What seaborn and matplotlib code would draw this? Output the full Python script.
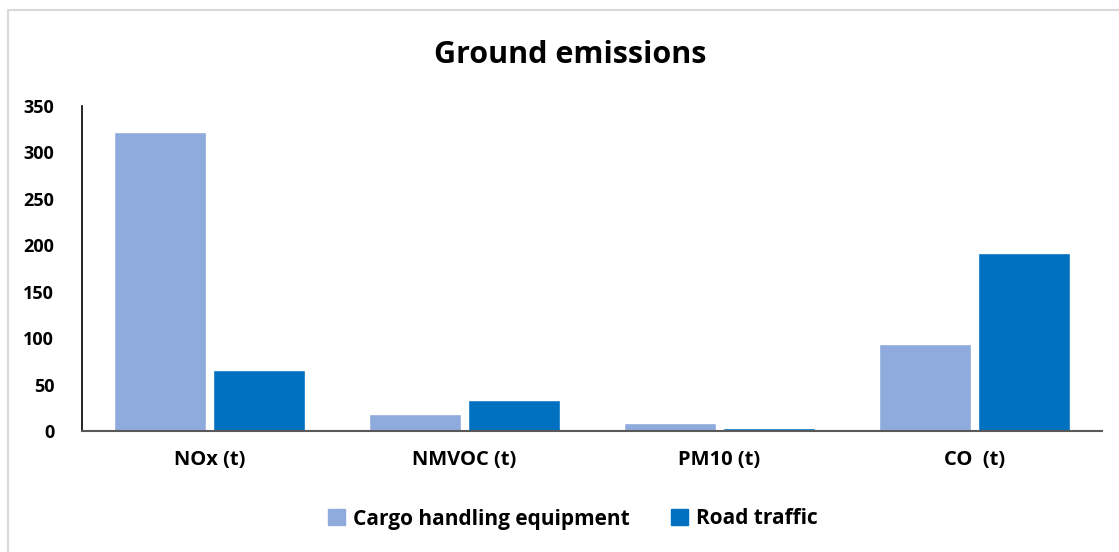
import matplotlib
matplotlib.use("Agg")
import matplotlib.pyplot as plt
import seaborn as sns
import pandas as pd
from matplotlib.lines import Line2D

categories = ["NOx (t)", "NMVOC (t)", "PM10 (t)", "CO  (t)"]
series_names = ["Cargo handling equipment", "Road traffic"]
cargo_values = [322, 18.5, 8.8, 94]
road_values = [66, 33.5, 3, 191.5]
y_ticks = [0, 50, 100, 150, 200, 250, 300, 350]
colors = ["#8FAADC", "#0070C0"]

df = pd.DataFrame({
    "category": categories * 2,
    "series": [series_names[0]] * len(categories) + [series_names[1]] * len(categories),
    "value": cargo_values + road_values,
})

sns.set_theme(style="white")
plt.rcParams["font.family"] = ["Open Sans", "DejaVu Sans"]
plt.rcParams["text.color"] = "black"
plt.rcParams["xtick.color"] = "black"
plt.rcParams["ytick.color"] = "black"

fig = plt.figure(figsize=(11.19, 5.52), dpi=100)
ax = fig.add_axes([82 / 1119, 1 - 431 / 552, (1102 - 82) / 1119, (431 - 106) / 552])

sns.barplot(data=df, x="category", y="value", hue="series", order=categories,
            hue_order=series_names, palette=colors, width=0.78, gap=0.08,
            saturation=1, ax=ax, legend=True)

ax.set_ylim(0, 350)
ax.set_yticks(y_ticks)
ax.set_yticklabels([str(t) for t in y_ticks], fontsize=13, fontweight="bold", color="black")
ax.set_xlim(-0.5, len(categories) - 0.5)
ax.set_xlabel("")
ax.set_ylabel("")
for lab in ax.get_xticklabels():
    lab.set_fontsize(14.5)
    lab.set_fontweight("bold")
    lab.set_color("black")
ax.tick_params(axis="both", length=0)
ax.tick_params(axis="x", pad=14)
ax.tick_params(axis="y", pad=20)

for s in ["top", "right"]:
    ax.spines[s].set_visible(False)
ax.spines["left"].set_color("black")
ax.spines["left"].set_linewidth(1.2)
ax.spines["bottom"].set_color("#595959")
ax.spines["bottom"].set_linewidth(1.5)

ax.legend_.remove()
handles = [plt.Rectangle((0, 0), 1, 1, color=c) for c in colors]
leg = fig.legend(handles, series_names, loc="center", bbox_to_anchor=(573 / 1119, 1 - 519 / 552),
                 ncol=2, frameon=False, prop={"size": 15, "weight": "bold"},
                 handlelength=0.8, handleheight=0.8, handletextpad=0.4, columnspacing=2.0)
for t in leg.get_texts():
    t.set_color("black")

fig.text(570 / 1119, 1 - 55 / 552, "Ground emissions", ha="center", va="center",
         fontsize=22, fontweight="bold", color="black")

# chart frame (light gray border)
fig.add_artist(Line2D([8 / 1119, 1.0], [1 - 10 / 552, 1 - 10 / 552], color="#D9D9D9", lw=1.5,
                      transform=fig.transFigure))
fig.add_artist(Line2D([8 / 1119, 8 / 1119], [0, 1 - 10 / 552], color="#D9D9D9", lw=1.5,
                      transform=fig.transFigure))

fig.savefig("out.png", dpi=100)
